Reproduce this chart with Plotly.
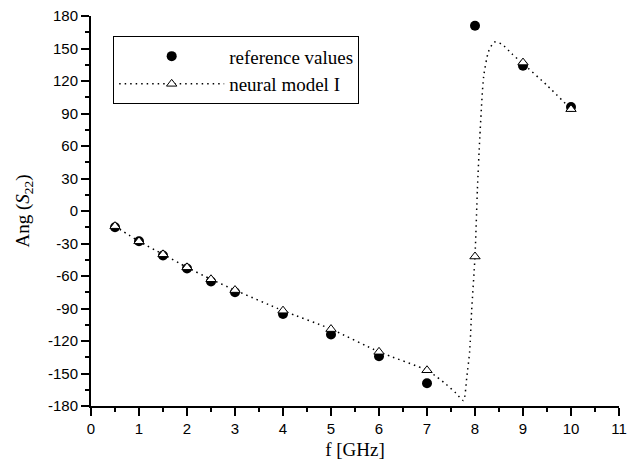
import plotly.graph_objects as go

# frequencies of the sample points [GHz]
freq = [0.5, 1, 1.5, 2, 2.5, 3, 4, 5, 6, 7, 8, 9, 10]
# reference values of Ang(S22) [deg]
ref_vals = [-15, -28, -41, -53, -65, -75, -95, -114, -134, -159, 171, 134, 96]
# neural model I at the sample points
nn_vals = [-14, -28, -40, -52, -63, -73, -92, -109, -130, -147, -42, 137, 94]

# neural model I continuous curve
curve_f = [0.5, 1, 1.5, 2, 2.5, 3, 4, 5, 6, 7, 7.2, 7.4, 7.6, 7.76, 7.83, 7.89, 7.93,
           8.0, 8.05, 8.1, 8.18, 8.28, 8.4, 8.56, 8.77, 9, 9.5, 10]
curve_v = [-14, -28, -40, -52, -63, -73, -92, -109, -130, -147, -153, -160, -168, -175,
           -153, -129, -92, -42, 20, 68, 124, 147, 156, 154, 145, 136, 116, 94]

x_ticks = list(range(0, 12))
y_ticks = list(range(-180, 181, 30))

serif = "Liberation Serif, Times New Roman, serif"
sans = "Liberation Sans, Arial, sans-serif"

fig = go.Figure()

fig.add_trace(go.Scatter(
    x=curve_f, y=curve_v, mode="lines",
    line=dict(color="black", width=1.5, dash="1.5px,4px", shape="spline", smoothing=0.6),
    showlegend=False, hoverinfo="skip"))

fig.add_trace(go.Scatter(
    x=freq, y=ref_vals, mode="markers", name="reference values",
    marker=dict(symbol="circle", size=10, color="black"),
    showlegend=True))

fig.add_trace(go.Scatter(
    x=freq, y=nn_vals, mode="markers", name="neural model I",
    marker=dict(symbol="triangle-up", size=9, color="white",
                line=dict(color="black", width=1)),
    showlegend=False))

# legend-only entry combining dotted line and triangle
fig.add_trace(go.Scatter(
    x=[None], y=[None], mode="lines+markers", name="neural model I",
    line=dict(color="black", width=1.5, dash="1.5px,4px"),
    marker=dict(symbol="triangle-up", size=9, color="white",
                line=dict(color="black", width=1)),
    showlegend=True))

fig.update_layout(
    width=628, height=462,
    margin=dict(l=83, r=17, t=8, b=64),
    plot_bgcolor="white", paper_bgcolor="white",
    showlegend=True,
    legend=dict(
        x=0.042, y=0.948, xanchor="left", yanchor="top",
        bordercolor="black", borderwidth=1, bgcolor="white",
        font=dict(family=serif, size=19, color="black"),
        itemwidth=105, tracegroupgap=0,
    ),
    xaxis=dict(
        range=[0, 11], tickvals=x_ticks, ticktext=[str(v) for v in x_ticks],
        automargin=False, ticklabeloverflow="allow",
        showgrid=False, zeroline=False, showline=True, linecolor="black", linewidth=2,
        ticks="outside", ticklen=8, tickwidth=1.6, tickcolor="black",
        minor=dict(dtick=0.5, tick0=0, ticks="outside", ticklen=4, tickwidth=1.6, tickcolor="black", showgrid=False),
        tickfont=dict(family=sans, size=15, color="black"),
        title=dict(text="f [GHz]", font=dict(family=serif, size=19, color="black"), standoff=7),
    ),
    yaxis=dict(
        range=[-180, 180], tickvals=y_ticks, ticktext=[str(v) for v in y_ticks],
        automargin=False, ticklabeloverflow="allow",
        showgrid=False, zeroline=False, showline=True, linecolor="black", linewidth=2,
        ticks="outside", ticklen=8, tickwidth=1.6, tickcolor="black",
        minor=dict(dtick=15, tick0=0, ticks="outside", ticklen=4, tickwidth=1.6, tickcolor="black", showgrid=False),
        tickfont=dict(family=sans, size=15, color="black"),
        title=dict(text="Ang (<i>S</i><sub>22</sub>)", font=dict(family=serif, size=19, color="black"), standoff=13),
    ),
)

fig.write_html("out.html")
